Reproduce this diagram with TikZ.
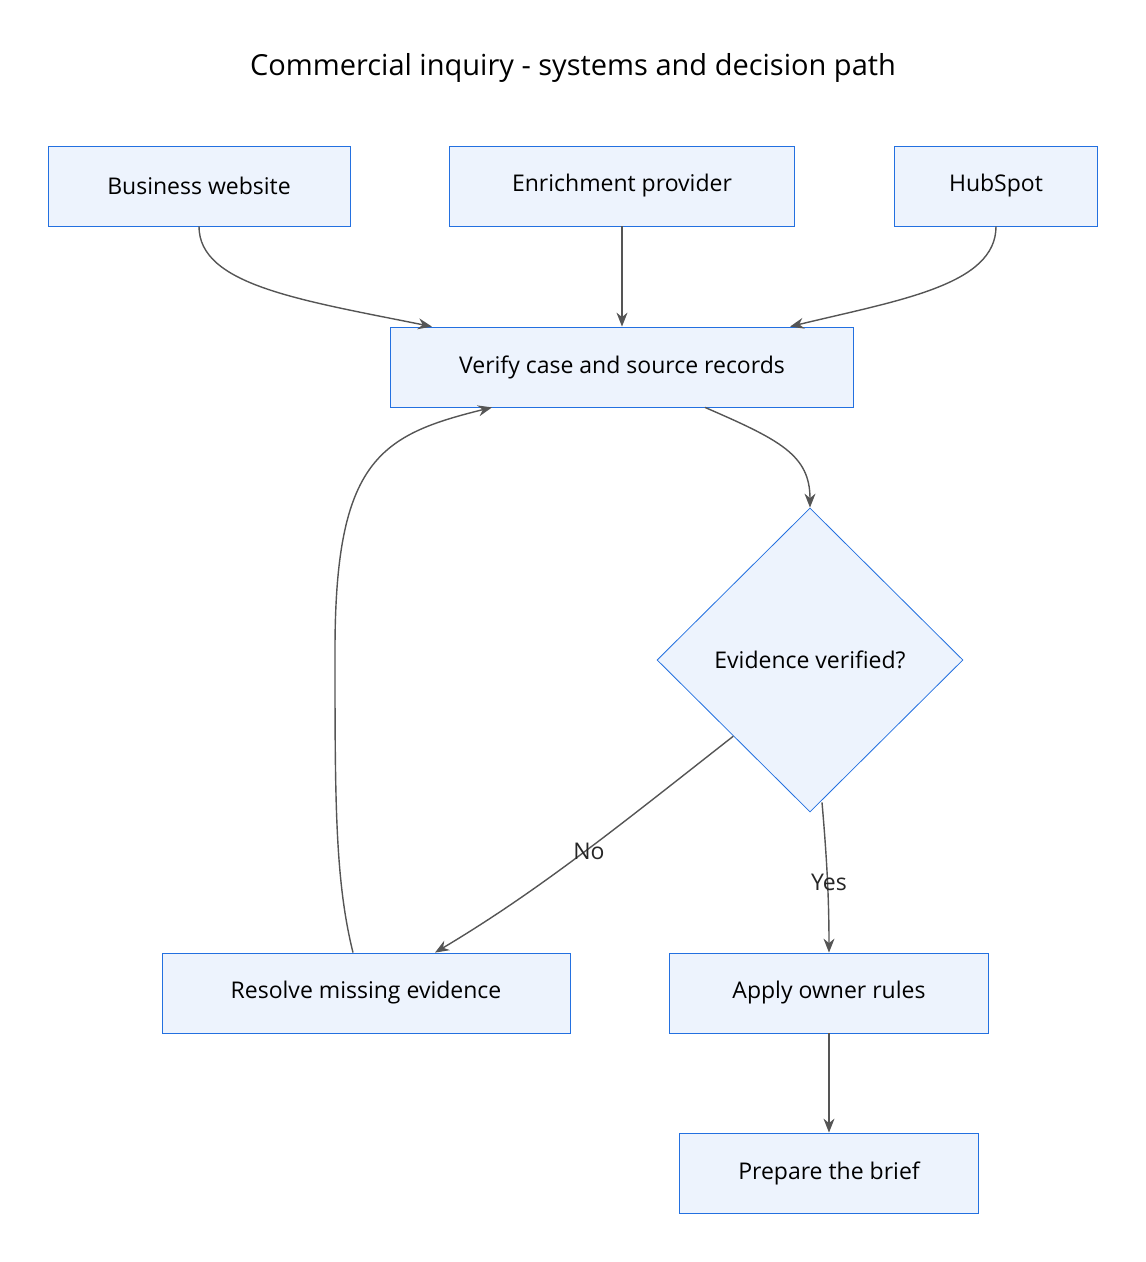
\documentclass[tikz,border=0pt]{standalone}
\usepackage{fontspec}
\setmainfont{Open Sans}
\usetikzlibrary{shapes.geometric,arrows.meta}
\definecolor{boxfill}{HTML}{EDF3FD}
\definecolor{boxline}{HTML}{2370E0}
\definecolor{edgecol}{HTML}{555555}
\begin{document}
\begin{tikzpicture}[x=1pt,y=-1pt]
	\tikzset{
		stepbox/.style = {draw=boxline, fill=boxfill, thick, rectangle, minimum height=80pt, font={\fontsize{23}{28}\selectfont}},
		check/.style = {draw=boxline, fill=boxfill, thick, diamond, minimum width=306pt, minimum height=304pt, inner sep=0pt, font={\fontsize{23}{28}\selectfont}},
		link/.style = {-{Stealth[length=14pt,width=11pt]}, edgecol, line width=1.4pt},
		tag/.style = {font={\fontsize{23}{28}\selectfont}, text=black!85}
	}
	\useasboundingbox (0,0) rectangle (1146,1262);

	\node[font={\fontsize{29}{34}\selectfont}] (title) at (573,68) {Commercial inquiry - systems and decision path};

	% sources
	\node[stepbox, minimum width=302pt] (web) at (199,186) {Business website};
	\node[stepbox, minimum width=345pt] (enrich) at (622,186) {Enrichment provider};
	\node[stepbox, minimum width=203pt] (hub) at (996,186) {HubSpot};

	% flow
	\node[stepbox, minimum width=463pt] (verify) at (622,367) {Verify case and source records};
	\node[check] (ok) at (810,660) {Evidence verified?};
	\node[stepbox, minimum width=408pt] (resolve) at (366,993) {Resolve missing evidence};
	\node[stepbox, minimum width=319pt] (owner) at (829,993) {Apply owner rules};
	\node[stepbox, minimum width=299pt] (brief) at (829,1173) {Prepare the brief};

	\draw[link] (web.south) .. controls (199,285) and (300,300) .. (verify.north -| 432,0);
	\draw[link] (enrich) -- (verify);
	\draw[link] (hub.south) .. controls (996,285) and (900,300) .. (verify.north -| 790,0);
	\draw[link] (verify.south -| 705,0) .. controls (780,440) and (810,455) .. (ok.north);
	\draw[link] (ok.south west) .. controls (620,825) and (540,890) .. (resolve.north -| 435,0);
	\draw[link] (ok.south) ++(12,-10) .. controls (827,860) and (829,900) .. (owner.north);
	\draw[link] (resolve.north -| 353,0) .. controls (335,880) and (335,800) .. (335,650)
		.. controls (335,460) and (380,435) .. (verify.south -| 492,0);
	\draw[link] (owner) -- (brief);

	\node[tag] (no) at (589,851) {No};
	\node[tag] (yes) at (829,882) {Yes};
\end{tikzpicture}
\end{document}
